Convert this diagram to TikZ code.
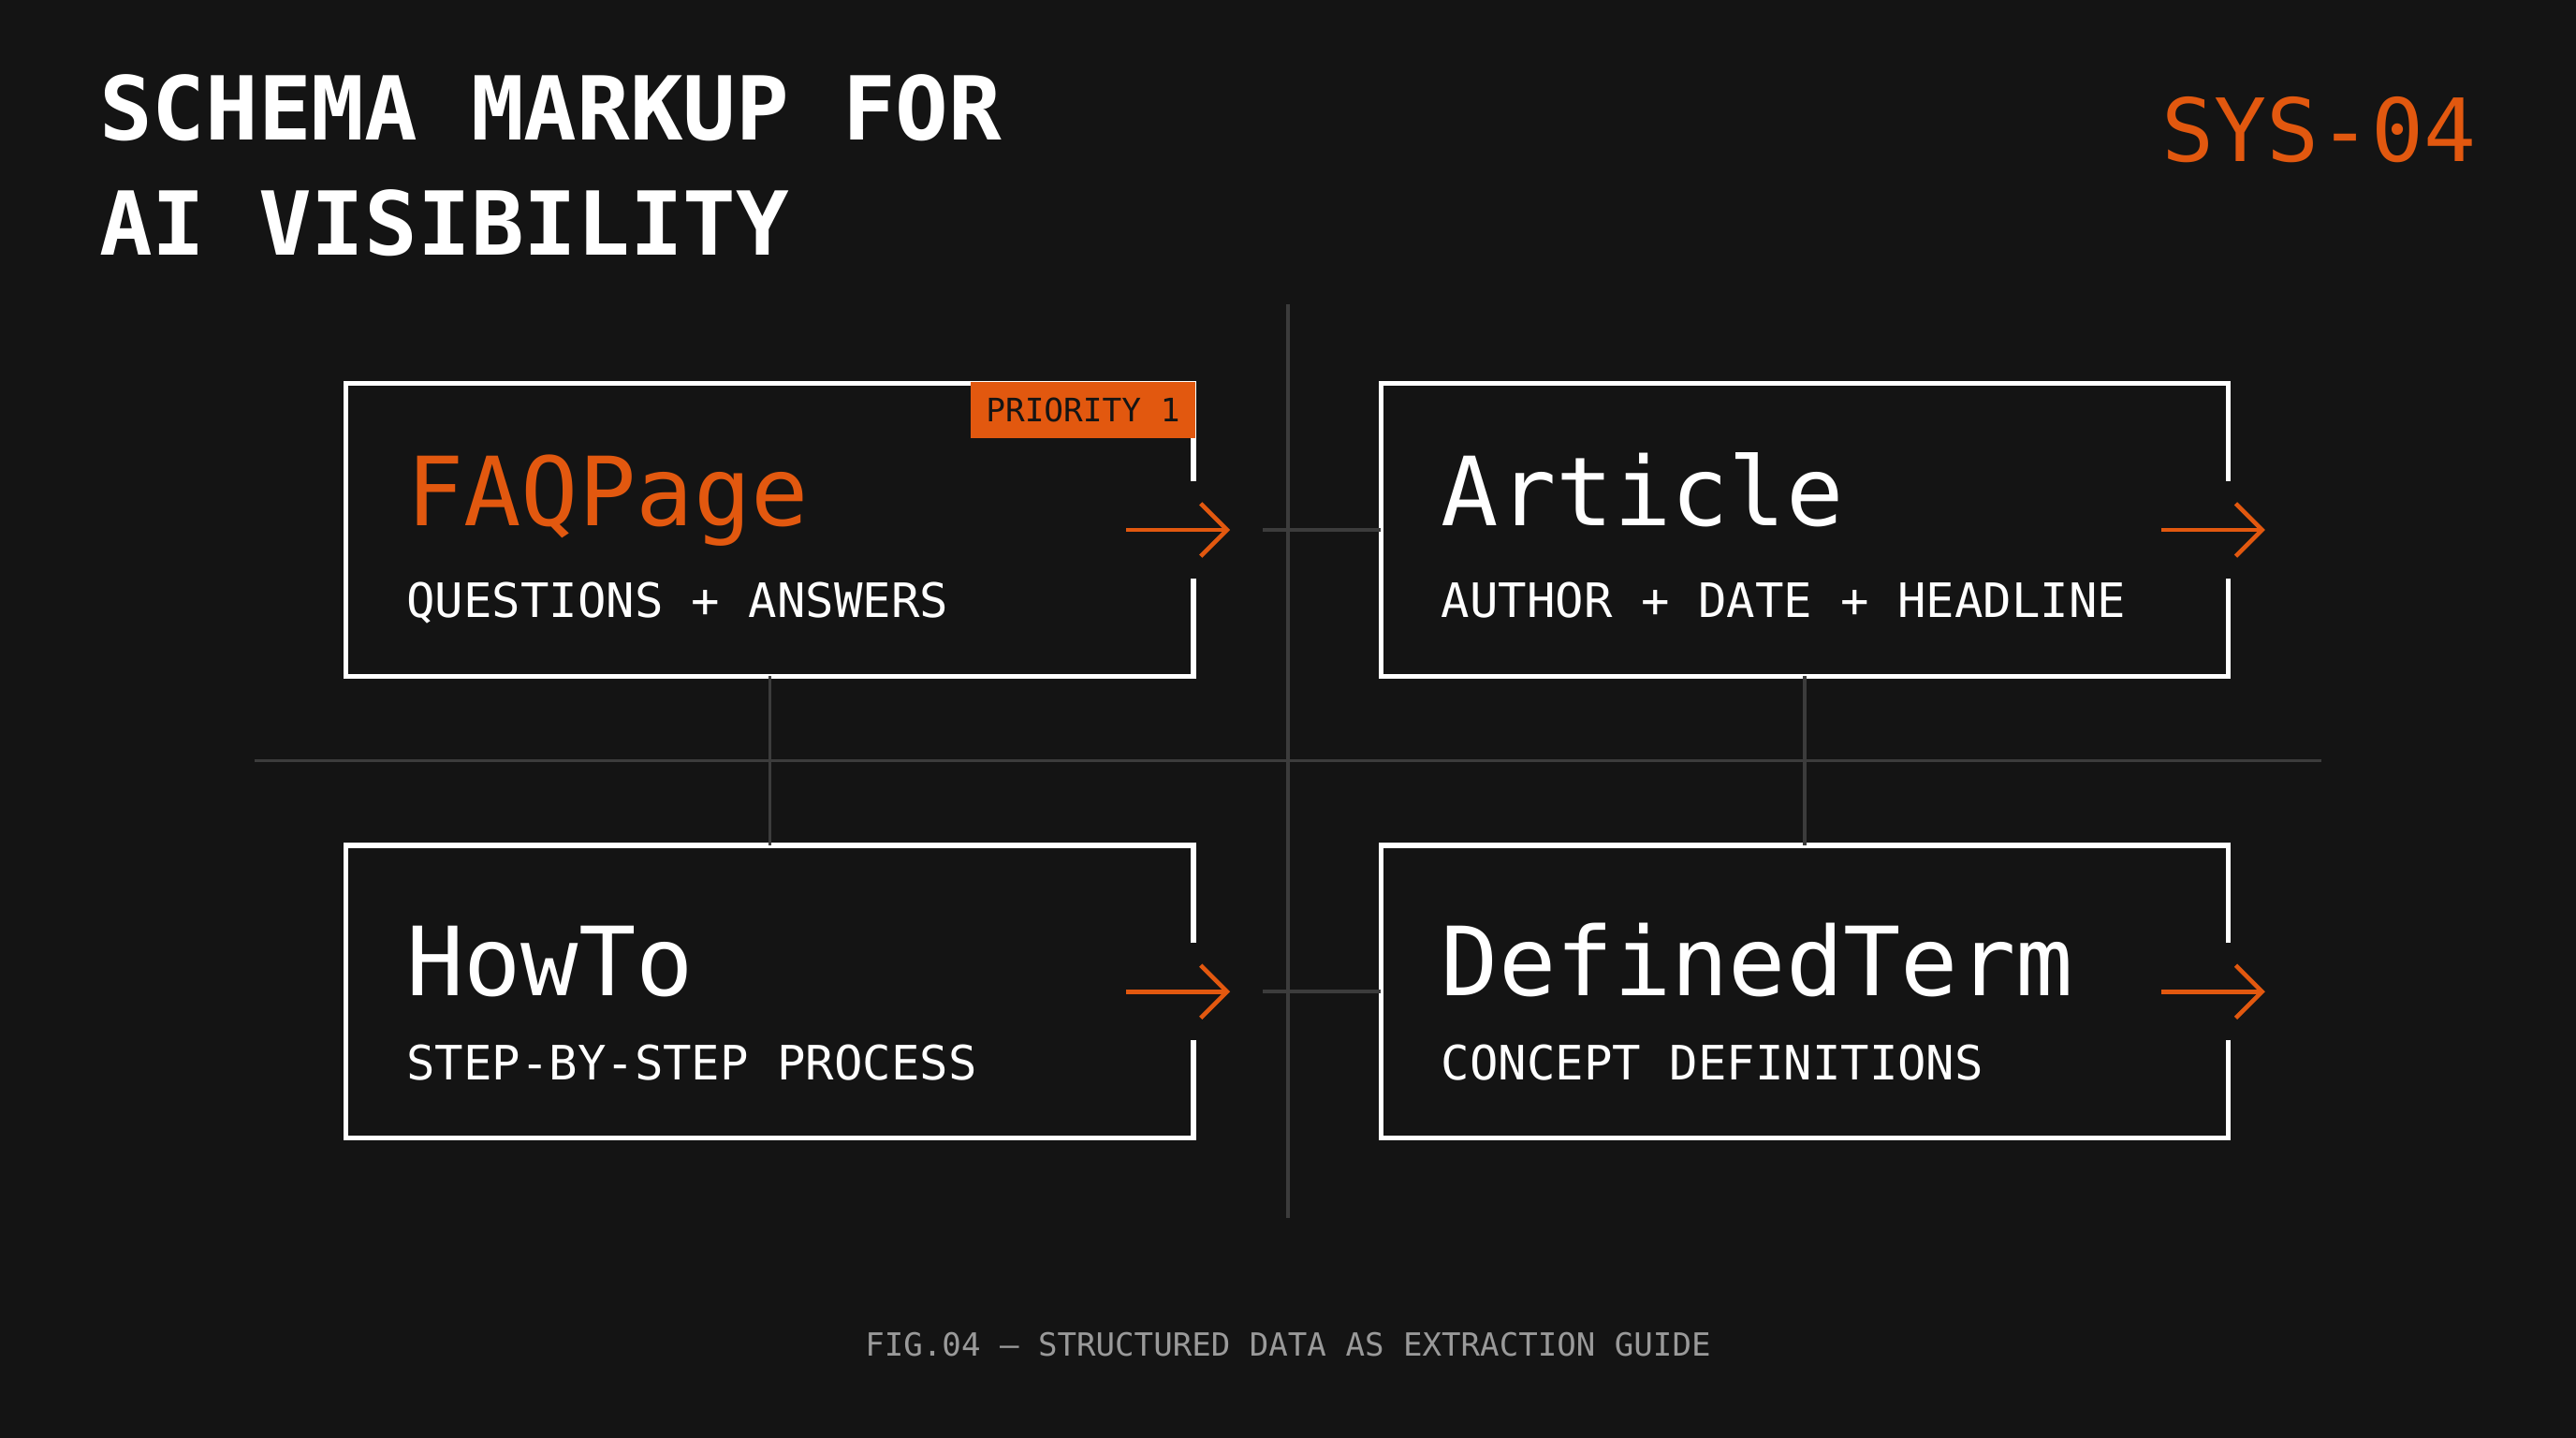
\documentclass[tikz,border=0pt]{standalone}
\usepackage{fontspec}
\setmonofont{DejaVu Sans Mono}
\usetikzlibrary{arrows.meta,positioning}
\definecolor{bgdark}{HTML}{141414}
\definecolor{accent}{HTML}{E2580F}
\definecolor{gridgray}{HTML}{3C3C3C}
\definecolor{capgray}{HTML}{9A9A9A}
% card outline with an opening on the right side around the arrow
\newcommand{\cardframe}[1]{%
  \draw[cardline] ([yshift=-1.04cm]#1.north east) -- (#1.north east) -- (#1.north west)
    -- (#1.south west) -- (#1.south east) -- ([yshift=1.04cm]#1.south east);}
\begin{document}
\begin{tikzpicture}[
    x=0.01755cm, y=-0.01755cm,
    every node/.style={font=\ttfamily, inner sep=0pt},
    % Card Styles
    card/.style={rectangle, minimum width=9.04cm, minimum height=3.11cm},
    cardline/.style={draw=white, line width=1.5pt},
    cardtitle/.style={anchor=base west, font=\ttfamily\fontsize{29}{30}\selectfont, text=white},
    cardsub/.style={anchor=base west, font=\ttfamily\fontsize{14.4}{16}\selectfont, text=white},
    % Connector Styles
    gridline/.style={draw=gridgray, line width=1pt},
    flowarrow/.style={draw=accent, line width=1.3pt, -{Straight Barb[length=8pt,width=16pt]}}
  ]
  % --- Background ---
  \fill[bgdark] (0,0) rectangle (1568,875);

  % --- Heading ---
  \node[anchor=base west, font=\ttfamily\bfseries\fontsize{26.8}{28}\selectfont, text=white,
        align=left] (heading) at (60,155) {SCHEMA MARKUP FOR\\[7pt]AI VISIBILITY};
  \node[anchor=base east, font=\ttfamily\fontsize{26.5}{28}\selectfont, text=accent]
        (sysid) at (1508,98) {SYS-04};

  % --- Axis Lines ---
  \coordinate (axtop) at (784,185);
  \coordinate (axbot) at (784,741);
  \coordinate (axleft) at (155,463);
  \coordinate (axright) at (1413,463);
  \draw[gridline] (axtop) -- (axbot);
  \draw[gridline] (axleft) -- (axright);

  % --- Cards ---
  \node[card] (faq) at (468.5,322.5) {};
  \node[card] (article) at (1098.5,322.5) {};
  \node[card] (howto) at (468.5,603.5) {};
  \node[card] (defterm) at (1098.5,603.5) {};
  \cardframe{faq}
  \cardframe{article}
  \cardframe{howto}
  \cardframe{defterm}

  % Priority tag
  \node[anchor=north east, fill=accent, minimum width=2.4cm, minimum height=0.6cm,
        font=\ttfamily\fontsize{9.8}{11}\selectfont, text=bgdark] (tag)
        at ([xshift=0.75pt,yshift=0.75pt]faq.north east) {PRIORITY 1};

  % Card texts
  \node[cardtitle, text=accent] (faqtitle) at (247,320) {FAQPage};
  \node[cardsub] (faqsub) at (247,376) {QUESTIONS + ANSWERS};
  \node[cardtitle] (arttitle) at (877,320) {Article};
  \node[cardsub] (artsub) at (877,376) {AUTHOR + DATE + HEADLINE};
  \node[cardtitle] (howtitle) at (247,606) {HowTo};
  \node[cardsub] (howsub) at (247,657) {STEP-BY-STEP PROCESS};
  \node[cardtitle] (deftitle) at (877,606) {DefinedTerm};
  \node[cardsub] (defsub) at (877,657) {CONCEPT DEFINITIONS};

  % --- Connections ---
  \draw[gridline] (faq.south) -- (howto.north);
  \draw[gridline] (article.south) -- (defterm.north);
  \draw[gridline] ([xshift=-1.26cm]article.west) -- (article.west);
  \draw[gridline] ([xshift=-1.26cm]defterm.west) -- (defterm.west);
  \foreach \c in {faq,article,howto,defterm}
    \draw[flowarrow] ([xshift=-0.72cm]\c.east) -- ([xshift=0.39cm]\c.east);

  % --- Caption ---
  \node[font=\ttfamily\fontsize{9.7}{11}\selectfont, text=capgray] (caption)
        at (784,818) {FIG.04 — STRUCTURED DATA AS EXTRACTION GUIDE};
\end{tikzpicture}
\end{document}
